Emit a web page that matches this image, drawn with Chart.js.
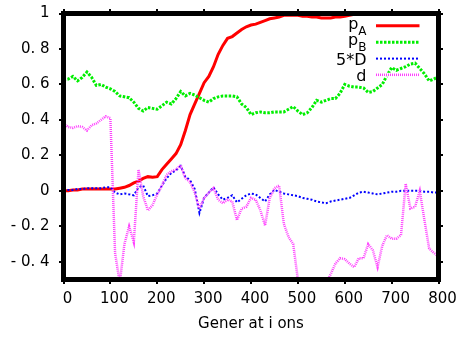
<!DOCTYPE html>
<html>
<head>
<meta charset="utf-8">
<script src="https://cdn.jsdelivr.net/npm/chart.js@4"></script>
<style>
  html, body { margin: 0; padding: 0; background: #fff; }
  canvas { display: block; }
</style>
</head>
<body>
<canvas id="genChart" width="458" height="339"></canvas>
<script>
// generations sampled every 10
const gens = [];
for (let g = 0; g <= 800; g += 10) gens.push(g);

const pA = [0.0, 0.0, 0.005, 0.005, 0.01, 0.01, 0.01, 0.01, 0.01, 0.01,
  0.01, 0.01, 0.015, 0.02, 0.03, 0.045, 0.055, 0.07, 0.08, 0.077,
  0.08, 0.12, 0.15, 0.18, 0.21, 0.26, 0.34, 0.43, 0.49, 0.55,
  0.61, 0.645, 0.70, 0.77, 0.82, 0.86, 0.87, 0.89, 0.91, 0.925,
  0.935, 0.94, 0.95, 0.96, 0.97, 0.975, 0.98, 0.99, 0.99, 0.99,
  0.99, 0.985, 0.985, 0.98, 0.98, 0.975, 0.975, 0.975, 0.98, 0.98,
  0.985, 0.99, 0.995, 1.0, 1.0, 1.0, 1.0, 1.0, 1.0, 1.0,
  1.0, 1.0, 1.0, 1.0, 1.0, 1.0, 1.0, 1.0, 1.0, 1.0, 1.0];

const pB = [0.625, 0.63, 0.645, 0.62, 0.64, 0.67, 0.64, 0.595, 0.60, 0.585,
  0.575, 0.56, 0.535, 0.53, 0.525, 0.50, 0.465, 0.45, 0.47, 0.465,
  0.46, 0.48, 0.50, 0.49, 0.52, 0.56, 0.535, 0.55, 0.54, 0.525,
  0.51, 0.50, 0.52, 0.53, 0.535, 0.535, 0.535, 0.53, 0.49, 0.47,
  0.43, 0.44, 0.445, 0.44, 0.44, 0.445, 0.445, 0.445, 0.46, 0.475,
  0.45, 0.43, 0.44, 0.47, 0.51, 0.50, 0.51, 0.52, 0.52, 0.55,
  0.60, 0.59, 0.585, 0.585, 0.58, 0.555, 0.56, 0.58, 0.60, 0.65,
  0.695, 0.68, 0.69, 0.70, 0.715, 0.72, 0.69, 0.66, 0.62, 0.63, 0.645];

const fiveD = [0.0, 0.005, 0.005, 0.01, 0.01, 0.015, 0.015, 0.015, 0.015, 0.02,
  0.02, -0.01, -0.02, -0.015, -0.02, -0.025, 0.02, 0.03, -0.03, -0.025,
  -0.015, 0.03, 0.07, 0.10, 0.115, 0.14, 0.08, 0.06, 0.01, -0.125,
  -0.04, -0.01, 0.02, -0.02, -0.05, -0.04, -0.025, -0.065, -0.045, -0.025,
  -0.015, -0.02, -0.04, -0.06, -0.02, 0.005, -0.005, -0.015, -0.02, -0.025,
  -0.03, -0.04, -0.045, -0.05, -0.06, -0.065, -0.07, -0.06, -0.055, -0.05,
  -0.045, -0.04, -0.025, -0.01, -0.005, -0.01, -0.015, -0.02, -0.015, -0.01,
  -0.005, -0.005, 0.0, 0.0, 0.0, 0.0, 0.0, -0.005, -0.005, -0.01, -0.01];

const dVals = [0.38, 0.36, 0.355, 0.365, 0.36, 0.34, 0.37, 0.38, 0.40, 0.42,
  0.41, -0.35, -0.52, -0.30, -0.20, -0.29, 0.12, -0.03, -0.11, -0.08,
  -0.02, 0.03, 0.09, 0.11, 0.12, 0.145, 0.07, 0.05, -0.01, -0.10,
  -0.04, -0.01, 0.015, -0.05, -0.07, -0.05, -0.06, -0.165, -0.10, -0.09,
  -0.04, -0.05, -0.11, -0.195, -0.04, 0.015, 0.03, -0.185, -0.26, -0.30,
  -0.50, -0.60, -0.65, -0.70, -0.65, -0.60, -0.52, -0.47, -0.41, -0.38,
  -0.385, -0.41, -0.43, -0.38, -0.38, -0.30, -0.335, -0.43, -0.31, -0.25,
  -0.27, -0.27, -0.25, 0.04, -0.10, -0.09, 0.0, -0.165, -0.325, -0.35, -0.37];

const xTicks = [0, 100, 200, 300, 400, 500, 600, 700, 800];
const yTicks = [-0.4, -0.2, 0, 0.2, 0.4, 0.6, 0.8, 1];
const yTickLabels = ['- 0. 4', '- 0. 2', '0', '0. 2', '0. 4', '0. 6', '0. 8', '1'];
const legendNames = [['p', 'A'], ['p', 'B'], ['5*D', ''], ['d', '']];
const xTitle = 'Gener at i ons';

const FONT = 'DejaVu Sans';

function pts(vals) {
  return gens.map((g, i) => ({ x: g, y: vals[i] }));
}

function noPad(s) {
  s.paddingTop = 0; s.paddingBottom = 0; s.paddingLeft = 0; s.paddingRight = 0;
}

// shared look of the thick gnuplot border and its small tick stubs
const edge = { display: true, color: '#000', width: 5 };
const stubs = { display: true, drawOnChartArea: false, drawTicks: true, tickLength: 4.5, tickWidth: 2, tickColor: '#000', lineWidth: 0 };

// border on top of the data, plus the key
const frameAndKey = {
  id: 'frameAndKey',
  afterDraw(chart) {
    const c = chart.ctx;
    const xs = chart.scales.x, ys = chart.scales.y;
    const L = xs.getPixelForValue(0), R = xs.getPixelForValue(800);
    const T = ys.getPixelForValue(1), B = ys.getPixelForValue(-0.5);
    c.save();
    c.fillStyle = '#000000';
    c.fillRect(L - 2.5, T - 2.5, R - L + 5, 5);
    c.fillRect(L - 2.5, B - 2.5, R - L + 5, 5);
    c.fillRect(L - 2.5, T - 2.5, 5, B - T + 5);
    c.fillRect(R - 2.5, T - 2.5, 5, B - T + 5);

    const textRight = 366.5, lineL = 376, lineR = 419.5;
    const rows = [25.7, 42.3, 58.6, 74.8];
    chart.data.datasets.forEach((ds, i) => {
      const y = rows[i];
      c.fillStyle = '#fff';
      c.fillRect(lineL - 1, y - 2, lineR - lineL + 2, 4);
      c.strokeStyle = ds.borderColor;
      c.lineWidth = ds.borderWidth;
      c.setLineDash(ds.borderDash || []);
      c.beginPath(); c.moveTo(lineL, y); c.lineTo(lineR, y); c.stroke();
      c.setLineDash([]);
      c.fillStyle = '#000';
      c.textBaseline = 'alphabetic';
      c.textAlign = 'right';
      const [main, sub] = legendNames[i];
      if (sub) {
        c.font = '12px "' + FONT + '"';
        const sw = c.measureText(sub).width;
        c.fillText(sub, textRight, y + 9);
        c.font = '16px "' + FONT + '"';
        c.fillText(main, textRight - sw, y + 3);
      } else {
        c.font = '16px "' + FONT + '"';
        c.fillText(main, textRight, y + 6);
      }
    });
    c.restore();
  }
};

const ctx = document.getElementById('genChart').getContext('2d');
const genChart = new Chart(ctx, {
  type: 'line',
  data: {
    datasets: [
      { label: 'pA', data: pts(pA), borderColor: '#ff0000', borderWidth: 3, order: 4 },
      { label: 'pB', data: pts(pB), borderColor: '#00ee00', borderWidth: 3, borderDash: [2.5, 1.5], order: 3 },
      { label: '5*D', data: pts(fiveD), borderColor: '#0000ff', borderWidth: 2, borderDash: [2, 2], order: 2 },
      { label: 'd', data: pts(dVals), borderColor: '#ff40ff', borderWidth: 2.5, borderDash: [1, 1], order: 1 }
    ]
  },
  options: {
    responsive: false,
    animation: false,
    events: [],
    layout: { padding: { left: 0, top: 13.5, right: 19.5, bottom: 0 } },
    elements: { point: { radius: 0 }, line: { tension: 0, borderCapStyle: 'butt' } },
    plugins: { legend: { display: false }, tooltip: { enabled: false } },
    scales: {
      x: {
        type: 'linear', min: 0, max: 800,
        grid: stubs,
        border: edge,
        afterFit: s => { s.height = 59.5; noPad(s); },
        afterBuildTicks: s => { s.ticks = xTicks.map(v => ({ value: v })); },
        ticks: { color: '#000', font: { family: FONT, size: 15 }, padding: 6.5, labelOffset: 4, maxRotation: 0 },
        title: { display: true, text: xTitle, color: '#000', font: { family: FONT, size: 15 }, padding: { top: 0, bottom: 6 } }
      },
      x2: {
        type: 'linear', position: 'top', min: 0, max: 800,
        grid: stubs,
        border: edge,
        afterFit: s => { s.height = 0; noPad(s); },
        afterBuildTicks: s => { s.ticks = xTicks.map(v => ({ value: v })); },
        ticks: { display: false }
      },
      y: {
        min: -0.5, max: 1,
        grid: stubs,
        border: edge,
        afterFit: s => { s.width = 63.5; noPad(s); },
        afterBuildTicks: s => { s.ticks = yTicks.map(v => ({ value: v })); },
        ticks: {
          color: '#000', font: { family: FONT, size: 15 }, padding: 9.5,
          callback: v => yTickLabels[yTicks.findIndex(t => Math.abs(t - v) < 1e-9)]
        }
      },
      y2: {
        position: 'right', min: -0.5, max: 1,
        grid: stubs,
        border: edge,
        afterFit: s => { s.width = 0; noPad(s); },
        afterBuildTicks: s => { s.ticks = yTicks.map(v => ({ value: v })); },
        ticks: { display: false }
      }
    }
  },
  plugins: [frameAndKey]
});
</script>
</body>
</html>
